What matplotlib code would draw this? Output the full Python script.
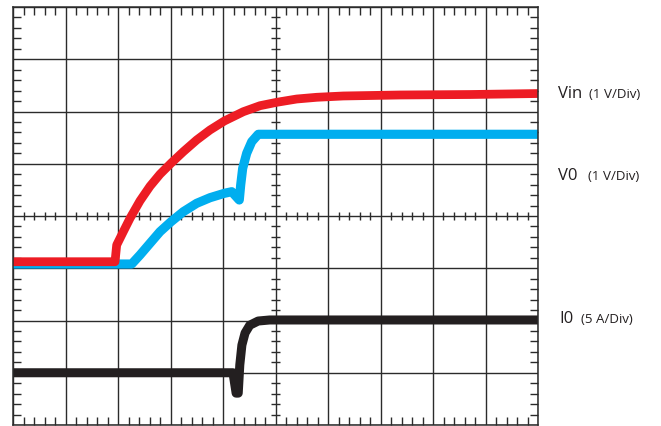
import numpy as np
import matplotlib.pyplot as plt
from matplotlib.ticker import MultipleLocator

# traces, in divisions (x: 0..10, y: 0..8)
vin_t = [0.000, 1.943, 1.975, 2.101, 2.229, 2.419, 2.610, 2.800, 3.010, 3.244,
         3.499, 3.752, 4.025, 4.387, 4.705, 5.023, 5.404, 5.785, 6.291, 7.371,
         8.705, 10.000]
vin_v = [3.125, 3.125, 3.445, 3.700, 3.956, 4.290, 4.570, 4.800, 5.010, 5.231,
         5.455, 5.646, 5.818, 5.996, 6.111, 6.176, 6.239, 6.272, 6.297, 6.316,
         6.325, 6.344]

vo_t = [0.000, 2.261, 2.419, 2.610, 2.800, 3.010, 3.244, 3.499, 3.752, 4.025,
        4.166, 4.310, 4.337, 4.375, 4.451, 4.547, 4.672, 10.000]
vo_v = [3.081, 3.081, 3.254, 3.478, 3.700, 3.891, 4.082, 4.243, 4.350, 4.434,
        4.465, 4.306, 4.593, 4.913, 5.200, 5.422, 5.564, 5.564]

io_t = [0.00, 4.19, 4.25, 4.29, 4.32, 4.36, 4.42, 4.51, 4.67, 4.89, 10.00]
io_v = [1.00, 1.00, 0.61, 0.61, 1.15, 1.53, 1.76, 1.91, 1.99, 2.01, 2.01]

labels = [("Vin", "(1 V/Div)"), ("V0", "(1 V/Div)"), ("I0", "(5 A/Div)")]

W, H = 661, 426
fig = plt.figure(figsize=(W / 100, H / 100), dpi=100)
ax = fig.add_axes([13 / W, 1 / H, 525 / W, 418 / H])
ax.set_xlim(0, 10)
ax.set_ylim(0, 8)

grid_col = '#2b2b2b'
ax.xaxis.set_major_locator(MultipleLocator(1))
ax.yaxis.set_major_locator(MultipleLocator(1))
ax.xaxis.set_minor_locator(MultipleLocator(0.2))
ax.yaxis.set_minor_locator(MultipleLocator(0.2))
ax.grid(True, which='major', color=grid_col, lw=1.0)
ax.tick_params(which='major', length=0, labelbottom=False, labelleft=False)
ax.tick_params(which='minor', direction='in', length=6, width=1.0, color=grid_col,
               top=True, right=True, bottom=True, left=True)
for s in ax.spines.values():
    s.set_color(grid_col)
    s.set_linewidth(1.1)

# tick crosses on the centre lines
minor = np.arange(0.2, 10, 0.2)
minor = minor[np.abs(minor - np.round(minor)) > 1e-6]
ax.vlines(minor, 4 - 0.08, 4 + 0.08, color=grid_col, lw=1.0)
my = np.arange(0.2, 8, 0.2)
my = my[np.abs(my - np.round(my)) > 1e-6]
ax.hlines(my, 5 - 0.09, 5 + 0.09, color=grid_col, lw=1.0)

kw = dict(solid_capstyle='round', solid_joinstyle='round')
ax.plot(vo_t, vo_v, color='#00aeef', lw=6.6, **kw)
ax.plot(vin_t, vin_v, color='#ed1c24', lw=6.3, **kw)
ax.plot(io_t, io_v, color='#231f20', lw=6.5, **kw)

# channel labels, placed in pixels
pos = [(558, 589, 98), (558, 588, 180), (559, 581, 323)]
font = 'Open Sans'
for (a, c), (x1, x3, yb) in zip(labels, pos):
    yy = 1 - yb / H
    fig.text(x1 / W, yy, a, fontsize=12, family=font, color='#231f20', va='baseline')
    fig.text(x3 / W, yy, c, fontsize=9.6, family=font, color='#231f20', va='baseline')

fig.savefig('out.png', dpi=100)
